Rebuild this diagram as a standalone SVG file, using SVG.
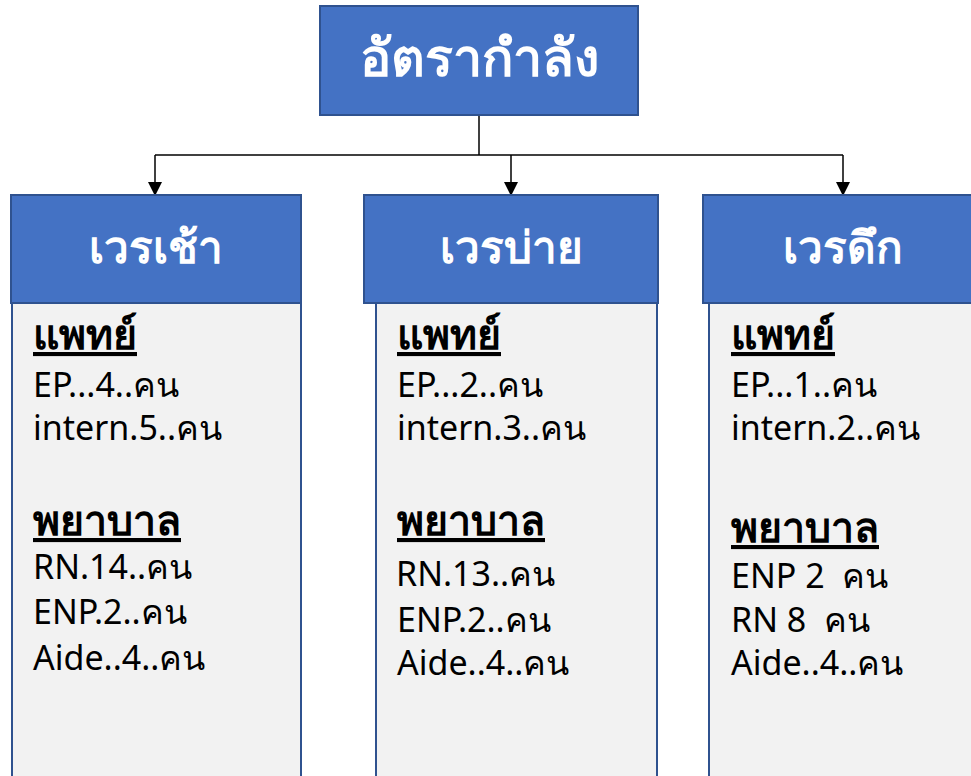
<svg xmlns="http://www.w3.org/2000/svg" width="971" height="776" viewBox="0 0 971 776">
<style>
.hdr{fill:#4472C4;stroke:#2F528F;stroke-width:2}
.body{fill:#F2F2F2;stroke:#2F528F;stroke-width:2}
.ttl{font-family:"Noto Sans","DejaVu Sans",sans-serif;font-weight:bold;fill:#FFFFFF;text-anchor:middle}
.sec{font-family:"Noto Sans","DejaVu Sans",sans-serif;font-weight:bold;font-size:41px;fill:#000;text-decoration:underline}
.txt{font-family:"Noto Sans","DejaVu Sans",sans-serif;font-size:34px;fill:#000;white-space:pre}
.con{fill:none;stroke:#000;stroke-width:1.5}
</style>
<defs>
<marker id="arr" markerWidth="14" markerHeight="14" refX="13" refY="7" orient="auto" markerUnits="userSpaceOnUse" viewBox="0 0 14 14">
<path d="M0,0 L14,7 L0,14 Z" fill="#000"/>
</marker>
</defs>
<g id="connectors">
<path class="con" d="M479,115 V155"/>
<path class="con" d="M155,155 H843" stroke="#404040"/>
<path class="con" d="M155,155 V195" marker-end="url(#arr)"/>
<path class="con" d="M511,155 V195" marker-end="url(#arr)"/>
<path class="con" d="M843,155 V195" marker-end="url(#arr)"/>
</g>
<g id="top">
<rect class="hdr" x="320" y="6" width="318" height="109"/>
<text class="ttl" x="479" y="76" font-size="52">อัตรากำลัง</text>
</g>
<g id="morning">
<rect class="body" x="12" y="303" width="289" height="480"/>
<rect class="hdr" x="11" y="195" width="290" height="108"/>
<text class="ttl" x="156" y="263" font-size="44">เวรเช้า</text>
<text class="sec" x="33" y="349">แพทย์</text>
<text class="txt" x="33" y="397">EP...4..คน</text>
<text class="txt" x="33" y="440">intern.5..คน</text>
<text class="sec" x="33" y="535">พยาบาล</text>
<text class="txt" x="33" y="579">RN.14..คน</text>
<text class="txt" x="33" y="624">ENP.2..คน</text>
<text class="txt" x="33" y="670">Aide..4..คน</text>
</g>
<g id="afternoon">
<rect class="body" x="376" y="303" width="281" height="480"/>
<rect class="hdr" x="364" y="195" width="294" height="108"/>
<text class="ttl" x="511" y="263" font-size="44">เวรบ่าย</text>
<text class="sec" x="397" y="349">แพทย์</text>
<text class="txt" x="397" y="397">EP...2..คน</text>
<text class="txt" x="397" y="440">intern.3..คน</text>
<text class="sec" x="397" y="535">พยาบาล</text>
<text class="txt" x="396" y="586" font-size="42">RN.13..คน</text>
<text class="txt" x="397" y="632">ENP.2..คน</text>
<text class="txt" x="397" y="675">Aide..4..คน</text>
</g>
<g id="night">
<rect class="body" x="709" y="303" width="290" height="480"/>
<rect class="hdr" x="703" y="195" width="300" height="108"/>
<text class="ttl" x="843" y="263" font-size="44">เวรดึก</text>
<text class="sec" x="731" y="349">แพทย์</text>
<text class="txt" x="731" y="397">EP...1..คน</text>
<text class="txt" x="731" y="440">intern.2..คน</text>
<text class="sec" x="731" y="542">พยาบาล</text>
<text class="txt" x="731" y="588" xml:space="preserve">ENP 2  คน</text>
<text class="txt" x="731" y="632" xml:space="preserve">RN 8  คน</text>
<text class="txt" x="731" y="675">Aide..4..คน</text>
</g>
</svg>
